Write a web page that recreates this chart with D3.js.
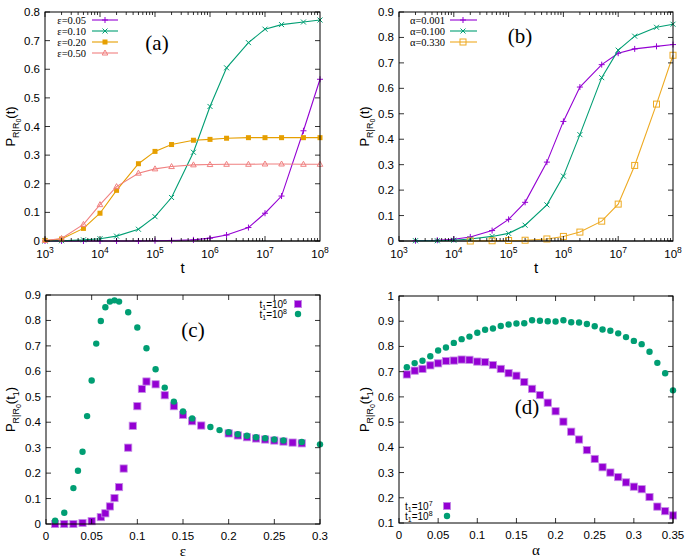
<!DOCTYPE html>
<html><head><meta charset="utf-8">
<script src="https://cdn.jsdelivr.net/npm/d3@7"></script>
<style>body{margin:0;background:#fff}svg{display:block}</style>
</head><body>
<svg id="chart" width="695" height="560"></svg>
<script>
// ---------- data ----------
const tA = [1e3,2e3,5e3,1e4,2e4,5e4,1e5,2e5,5e5,1e6,2e6,5e6,1e7,2e7,5e7,1e8];
const eps005 = [0,0,0,0,0,0,0.001,0.002,0.004,0.01,0.021,0.047,0.097,0.157,0.385,0.565];
const eps010 = [0,0.001,0.004,0.008,0.017,0.041,0.085,0.152,0.31,0.47,0.605,0.693,0.74,0.756,0.765,0.772];
const eps020 = [0.002,0.007,0.044,0.097,0.177,0.27,0.313,0.337,0.352,0.355,0.359,0.361,0.361,0.361,0.361,0.361];
const eps050 = [0.002,0.009,0.058,0.127,0.19,0.237,0.252,0.26,0.266,0.267,0.268,0.268,0.269,0.269,0.268,0.268];
const epsLabels = ["ε=0.05","ε=0.10","ε=0.20","ε=0.50"];

const tB = [2e3,5e3,1e4,2e4,5e4,1e5,2e5,5e5,1e6,2e6,5e6,1e7,2e7,5e7,1e8];
const alpha0001 = [0.001,0.003,0.007,0.016,0.041,0.085,0.152,0.31,0.47,0.605,0.693,0.738,0.755,0.765,0.772];
const alpha0100 = [0.001,0.001,0.003,0.008,0.018,0.03,0.062,0.142,0.255,0.418,0.642,0.75,0.805,0.84,0.852];
const tB330 = [2e4,5e4,1e5,2e5,5e5,1e6,2e6,5e6,1e7,2e7,5e7,1e8];
const alpha0330 = [0,0.001,0.002,0.003,0.008,0.018,0.035,0.078,0.145,0.297,0.538,0.73];
const alphaLabels = ["α=0.001","α=0.100","α=0.330"];

const epsC6 = [0.01,0.02,0.03,0.04,0.05,0.06,0.065,0.07,0.075,0.08,0.085,0.09,0.095,0.1,0.105,0.11,0.12,0.13,0.14,0.15,0.16,0.17,0.2,0.21,0.22,0.23,0.24,0.25,0.26,0.27,0.28];
const valC6 = [0,0,0,0.004,0.011,0.027,0.042,0.069,0.102,0.145,0.218,0.30,0.386,0.463,0.531,0.56,0.549,0.506,0.463,0.429,0.404,0.387,0.356,0.348,0.341,0.336,0.332,0.328,0.324,0.320,0.317];
const epsC8 = [0.01,0.02,0.03,0.035,0.04,0.045,0.05,0.055,0.06,0.065,0.07,0.075,0.08,0.09,0.1,0.11,0.12,0.13,0.14,0.15,0.16,0.18,0.19,0.2,0.21,0.22,0.23,0.24,0.25,0.26,0.28,0.3];
const valC8 = [0.013,0.044,0.141,0.209,0.284,0.424,0.564,0.709,0.798,0.852,0.874,0.879,0.874,0.832,0.772,0.691,0.608,0.536,0.481,0.442,0.415,0.381,0.369,0.361,0.353,0.347,0.341,0.337,0.332,0.328,0.322,0.313];

const alphaD = [0.01,0.02,0.03,0.04,0.05,0.06,0.07,0.08,0.09,0.1,0.11,0.12,0.13,0.14,0.15,0.16,0.17,0.18,0.19,0.2,0.21,0.22,0.23,0.24,0.25,0.26,0.27,0.28,0.29,0.3,0.31,0.32,0.33,0.34,0.35];
const valD7 = [0.689,0.704,0.711,0.725,0.733,0.742,0.744,0.748,0.747,0.740,0.738,0.726,0.711,0.694,0.684,0.659,0.632,0.607,0.577,0.543,0.502,0.462,0.431,0.389,0.354,0.321,0.300,0.282,0.261,0.244,0.234,0.203,0.165,0.147,0.130];
const valD8 = [0.718,0.734,0.743,0.761,0.784,0.796,0.814,0.829,0.839,0.854,0.866,0.871,0.881,0.887,0.891,0.892,0.904,0.902,0.900,0.899,0.904,0.896,0.895,0.889,0.880,0.867,0.862,0.852,0.837,0.822,0.809,0.779,0.735,0.694,0.626];

const yTicksA = [0,0.1,0.2,0.3,0.4,0.5,0.6,0.7,0.8];
const yTicksB = [0,0.1,0.2,0.3,0.4,0.5,0.6,0.7,0.8,0.9];
const yTicksC = [0,0.1,0.2,0.3,0.4,0.5,0.6,0.7,0.8,0.9];
const yTicksD = [0.1,0.2,0.3,0.4,0.5,0.6,0.7,0.8,0.9,1];
const xTicksC = [0,0.05,0.1,0.15,0.2,0.25,0.3];
const xTicksD = [0,0.05,0.1,0.15,0.2,0.25,0.3,0.35];
const logExps = [3,4,5,6,7,8];

// ---------- style ----------
const PURPLE="#9400d3", GREEN="#009e73", ORANGE="#e69f00", PINK="#f08080";
const SANS="'Liberation Sans', Arial, sans-serif", SERIF="'Liberation Serif','Times New Roman',serif";

const svg = d3.select("#chart");

function fmt(d){ return String(+d.toFixed(2)); }

function frame(g, x, y, opts){
  const [x0,x1]=x.range(), [y0,y1]=y.range(); // y0 bottom, y1 top
  opts.yTicks.forEach(v=>{
    const yy=y(v);
    g.append("line").attr("x1",x0).attr("x2",x0+5).attr("y1",yy).attr("y2",yy).attr("stroke","#000").attr("stroke-width",0.8);
    g.append("line").attr("x1",x1).attr("x2",x1-5).attr("y1",yy).attr("y2",yy).attr("stroke","#000").attr("stroke-width",0.8);
    g.append("text").attr("x",x0-5).attr("y",yy+4).attr("text-anchor","end").attr("font-family",SANS).attr("font-size",11.5).text(fmt(v));
  });
  if(opts.log){
    for(let e=3;e<8;e++) for(let m=1;m<10;m++){
      const v=m*Math.pow(10,e), xx=x(v), L=m===1?5:3;
      g.append("line").attr("x1",xx).attr("x2",xx).attr("y1",y0).attr("y2",y0-L).attr("stroke","#000").attr("stroke-width",0.8);
      g.append("line").attr("x1",xx).attr("x2",xx).attr("y1",y1).attr("y2",y1+L).attr("stroke","#000").attr("stroke-width",0.8);
    }
    logExps.forEach(e=>{
      const xx=x(Math.pow(10,e));
      const t=g.append("text").attr("x",xx).attr("y",y0+17).attr("text-anchor","middle").attr("font-family",SANS).attr("font-size",11.5);
      t.append("tspan").text("10");
      t.append("tspan").attr("dy",-5).attr("font-size",8.5).text(e);
    });
  } else {
    opts.xTicks.forEach(v=>{
      const xx=x(v);
      g.append("line").attr("x1",xx).attr("x2",xx).attr("y1",y0).attr("y2",y0-5).attr("stroke","#000").attr("stroke-width",0.8);
      g.append("line").attr("x1",xx).attr("x2",xx).attr("y1",y1).attr("y2",y1+5).attr("stroke","#000").attr("stroke-width",0.8);
      g.append("text").attr("x",xx).attr("y",y0+16).attr("text-anchor","middle").attr("font-family",SANS).attr("font-size",11.5).text(fmt(v));
    });
  }
  g.append("rect").attr("x",x0).attr("y",y1).attr("width",x1-x0).attr("height",y0-y1).attr("fill","none").attr("stroke","#000").attr("stroke-width",1);
  const cy=(y0+y1)/2, lx=opts.ylabX;
  const t=g.append("text").attr("transform",`translate(${lx},${cy}) rotate(-90)`).attr("text-anchor","middle").attr("font-family",SANS).attr("font-size",13);
  t.append("tspan").text("P");
  t.append("tspan").attr("dy",4).attr("font-size",9).text("R|R");
  t.append("tspan").attr("dy",2).attr("font-size",7).text("0");
  if(opts.sub1){
    t.append("tspan").attr("dy",-6).attr("font-size",13).text("(t");
    t.append("tspan").attr("dy",4).attr("font-size",9).text("1");
    t.append("tspan").attr("dy",-4).attr("font-size",13).text(")");
  } else {
    t.append("tspan").attr("dy",-6).attr("font-size",13).text("(t)");
  }
  g.append("text").attr("x",(x0+x1)/2).attr("y",y0+32).attr("text-anchor","middle").attr("font-family",opts.xlabFont||SANS).attr("font-size",15).text(opts.xlab);
  g.append("text").attr("x",opts.pl[0]).attr("y",opts.pl[1]).attr("text-anchor","middle").attr("font-family",SERIF).attr("font-size",21).text(opts.plText);
}

function marker(sel, kind, color){
  if(kind==="plus") sel.append("path").attr("d","M-3,0H3M0,-3V3").attr("stroke",color).attr("stroke-width",1).attr("fill","none");
  else if(kind==="x") sel.append("path").attr("d","M-2.5,-2.5L2.5,2.5M-2.5,2.5L2.5,-2.5").attr("stroke",color).attr("stroke-width",1).attr("fill","none");
  else if(kind==="fsq") sel.append("rect").attr("x",-2.5).attr("y",-2.5).attr("width",5).attr("height",5).attr("fill",color);
  else if(kind==="osq") sel.append("rect").attr("x",-3).attr("y",-3).attr("width",6).attr("height",6).attr("fill","none").attr("stroke",color).attr("stroke-width",1);
  else if(kind==="tri") sel.append("path").attr("d","M0,-3L2.8,2L-2.8,2Z").attr("fill","none").attr("stroke",color).attr("stroke-width",1);
  else if(kind==="bsq") sel.append("rect").attr("x",-3.6).attr("y",-3.6).attr("width",7.2).attr("height",7.2).attr("fill",color).attr("stroke","#c58be6").attr("stroke-width",0.8);
  else if(kind==="dot") sel.append("circle").attr("r",3.2).attr("fill",color);
}

function lineSeries(g, x, y, xs, ys, color, kind){
  const pts = xs.map((v,i)=>[v,ys[i]]);
  g.append("path").datum(pts).attr("d",d3.line().x(d=>x(d[0])).y(d=>y(d[1]))).attr("fill","none").attr("stroke",color).attr("stroke-width",1.1);
  pts.forEach(p=>{
    marker(g.append("g").attr("transform",`translate(${x(p[0])},${y(p[1])})`),kind,color);
  });
}
function pointSeries(g, x, y, xs, ys, color, kind){
  xs.forEach((v,i)=>{
    marker(g.append("g").attr("transform",`translate(${x(v)},${y(ys[i])})`),kind,color);
  });
}

// ---------- panel (a) ----------
{
  const g=svg.append("g");
  const x=d3.scaleLog().domain([1e3,1e8]).range([45,320]);
  const y=d3.scaleLinear().domain([0,0.8]).range([241,12]);
  g.append("line").attr("x1",45).attr("x2",320).attr("y1",y(0)).attr("y2",y(0)).attr("stroke","#999").attr("stroke-width",2);
  const series=[[eps005,PURPLE,"plus"],[eps010,GREEN,"x"],[eps020,ORANGE,"fsq"],[eps050,PINK,"tri"]];
  series.forEach(s=>lineSeries(g,x,y,tA,s[0],s[1],s[2]));
  frame(g,x,y,{log:true,yTicks:yTicksA,ylabX:15,xlab:"t",pl:[157,50],plText:"(a)"});
  series.forEach((s,i)=>{
    const yy=20+i*11;
    g.append("text").attr("x",86).attr("y",yy+3.5).attr("text-anchor","end").attr("font-family",SERIF).attr("font-size",10.5).text(epsLabels[i]);
    g.append("line").attr("x1",92).attr("x2",118).attr("y1",yy).attr("y2",yy).attr("stroke",s[1]).attr("stroke-width",1.1);
    marker(g.append("g").attr("transform",`translate(105,${yy})`),s[2],s[1]);
  });
}
// ---------- panel (b) ----------
{
  const g=svg.append("g");
  const x=d3.scaleLog().domain([1e3,1e8]).range([399,673]);
  const y=d3.scaleLinear().domain([0,0.9]).range([241,12]);
  g.append("line").attr("x1",399).attr("x2",673).attr("y1",y(0)).attr("y2",y(0)).attr("stroke","#999").attr("stroke-width",2);
  const series=[[tB,alpha0001,PURPLE,"plus"],[tB,alpha0100,GREEN,"x"],[tB330,alpha0330,"#eeaa22","osq"]];
  series.forEach(s=>lineSeries(g,x,y,s[0],s[1],s[2],s[3]));
  frame(g,x,y,{log:true,yTicks:yTicksB,ylabX:369,xlab:"t",pl:[520,43],plText:"(b)"});
  series.forEach((s,i)=>{
    const yy=20+i*11;
    g.append("text").attr("x",445).attr("y",yy+3.5).attr("text-anchor","end").attr("font-family",SERIF).attr("font-size",10.5).text(alphaLabels[i]);
    g.append("line").attr("x1",450).attr("x2",477).attr("y1",yy).attr("y2",yy).attr("stroke",s[2]).attr("stroke-width",1.1);
    marker(g.append("g").attr("transform",`translate(463,${yy})`),s[3],s[2]);
  });
}
// ---------- panel (c) ----------
{
  const g=svg.append("g");
  const x=d3.scaleLinear().domain([0,0.3]).range([46,320]);
  const y=d3.scaleLinear().domain([0,0.9]).range([524,295]);
  pointSeries(g,x,y,epsC6,valC6,PURPLE,"bsq");
  pointSeries(g,x,y,epsC8,valC8,GREEN,"dot");
  frame(g,x,y,{log:false,xTicks:xTicksC,yTicks:yTicksC,ylabX:15,sub1:true,xlab:"ε",xlabFont:SERIF,pl:[193,337],plText:"(c)"});
  [[304,"6",PURPLE,"bsq"],[314,"8",GREEN,"dot"]].forEach(r=>{
    const t=g.append("text").attr("x",287).attr("y",r[0]+3.5).attr("text-anchor","end").attr("font-family",SANS).attr("font-size",10);
    t.append("tspan").text("t");
    t.append("tspan").attr("dy",2.5).attr("font-size",7).text("1");
    t.append("tspan").attr("dy",-2.5).text("=10");
    t.append("tspan").attr("dy",-4).attr("font-size",7).text(r[1]);
    marker(g.append("g").attr("transform",`translate(298,${r[0]})`),r[3],r[2]);
  });
}
// ---------- panel (d) ----------
{
  const g=svg.append("g");
  const x=d3.scaleLinear().domain([0,0.35]).range([399,673]);
  const y=d3.scaleLinear().domain([0.1,1]).range([523,296]);
  pointSeries(g,x,y,alphaD,valD7,PURPLE,"bsq");
  pointSeries(g,x,y,alphaD,valD8,GREEN,"dot");
  frame(g,x,y,{log:false,xTicks:xTicksD,yTicks:yTicksD,ylabX:369,sub1:true,xlab:"α",xlabFont:SERIF,pl:[527,414],plText:"(d)"});
  [[506,"7",PURPLE,"bsq"],[516,"8",GREEN,"dot"]].forEach(r=>{
    const t=g.append("text").attr("x",405).attr("y",r[0]+3.5).attr("text-anchor","start").attr("font-family",SANS).attr("font-size",10);
    t.append("tspan").text("t");
    t.append("tspan").attr("dy",2.5).attr("font-size",7).text("1");
    t.append("tspan").attr("dy",-2.5).text("=10");
    t.append("tspan").attr("dy",-4).attr("font-size",7).text(r[1]);
    marker(g.append("g").attr("transform",`translate(447,${r[0]})`),r[3],r[2]);
  });
}
</script>
</body></html>
